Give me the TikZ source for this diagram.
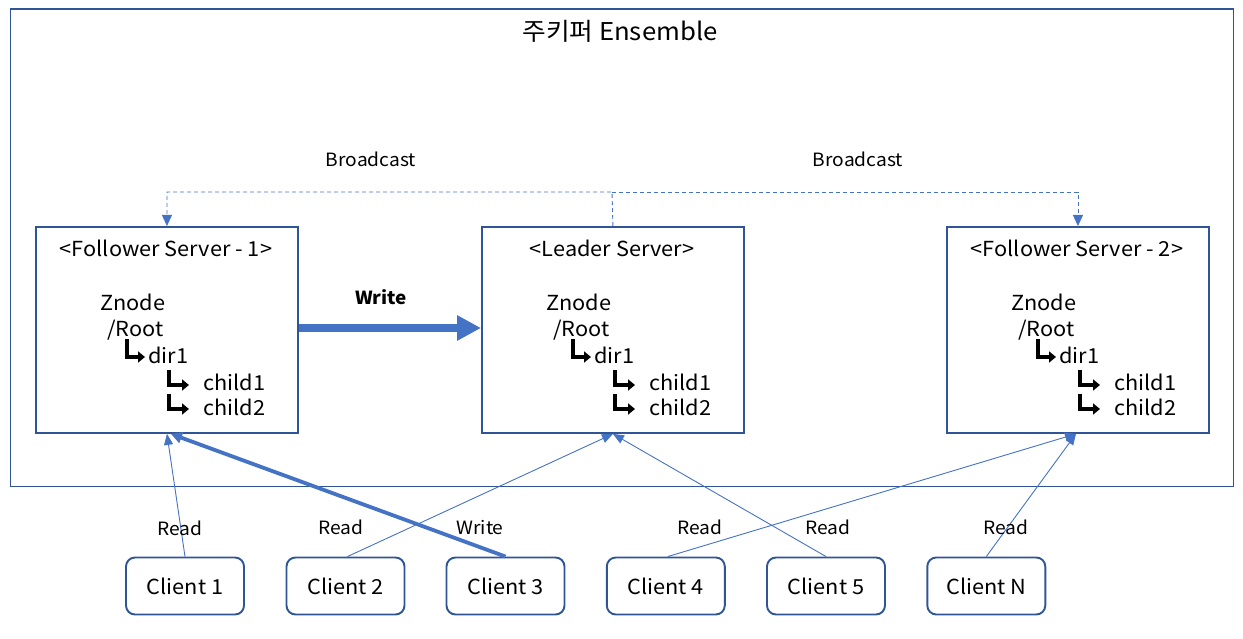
\documentclass[tikz,border=0pt]{standalone}
\usepackage{fontspec}
\setmainfont[FakeStretch=1.05]{Noto Sans CJK KR}
\usetikzlibrary{arrows.meta}
\definecolor{boxc}{HTML}{2F5597}
\definecolor{linec}{HTML}{4472C4}
\tikzset{
  server/.style={draw=boxc, line width=1.9pt, minimum width=262, minimum height=206, inner sep=0, anchor=north west},
  client/.style={draw=boxc, line width=1.9pt, rounded corners=9, minimum width=118, minimum height=57, inner sep=0, font=\fontsize{20.7}{22}\selectfont},
  lbl/.style={font=\fontsize{18.3}{20}\selectfont, inner sep=0},
  tree/.style={font=\fontsize{20.7}{22}\selectfont, inner sep=0, anchor=base west},
  hook/.style={line width=3.6pt, -{Triangle[length=7,width=11]}},
  readarr/.style={draw=linec, line width=0.9pt, -{Triangle[length=11,width=9]}},
  thickarr/.style={draw=linec, line width=3.8pt, -{Triangle[length=11,width=11]}},
  bcast/.style={draw=linec, line width=0.9pt, dash pattern=on 4pt off 3pt, -{Triangle[length=11,width=10]}}
}
\newcommand{\serverbox}[3]{%
  \node[server] (#1) at (#2,226) {};
  \begin{scope}[shift={(#2,226)}]
    \node[tree, anchor=base] (#1t) at (131,31) {#3};
    \node[tree] (#1z) at (65,85) {Znode};
    \node[tree] (#1r) at (72,111) {/Root};
    \node[tree] (#1d) at (113,137) {dir1};
    \node[tree] (#1c1) at (168,164) {child1};
    \node[tree] (#1c2) at (168,189) {child2};
    \draw[hook] (92,113) -- (92,131) -- (110,131);
    \draw[hook] (134,144) -- (134,159) -- (154,159);
    \draw[hook] (134,168) -- (134,183) -- (154,183);
  \end{scope}
}
\begin{document}
\begin{tikzpicture}[x=1pt,y=-1pt]
\useasboundingbox (0,0) rectangle (1243,639);
\node[draw=boxc, line width=1.9pt, minimum width=1223, minimum height=477, inner sep=0, anchor=north west] (frame) at (9.5,8.5) {};
\node[font=\fontsize{24.5}{26}\selectfont, inner sep=0] (title) at (620,31) {주키퍼 Ensemble};

\serverbox{fa}{35}{<Follower Server - 1>}
\serverbox{ld}{481}{<Leader Server>}
\serverbox{fb}{946}{<Follower Server - 2>}

\node[lbl] (bl1) at (371,159) {Broadcast};
\node[lbl] (bl2) at (858,159) {Broadcast};
\coordinate (bc) at (612,192);
\draw[bcast] (ld.north) -- (bc) -| (fa.north);
\draw[bcast] (bc) -| (fb.north);

\draw[draw=linec, line width=8pt, -{Triangle[length=24,width=24]}] (fa.east |- 0,328) -- (ld.west |- 0,328);
\node[lbl, font=\fontsize{18}{20}\selectfont\bfseries] (wl) at (381,297) {Write};

\node[client] (c1) at (185,586) {Client 1};
\node[client] (c2) at (345.5,586) {Client 2};
\node[client] (c3) at (505.5,586) {Client 3};
\node[client] (c4) at (665.8,586) {Client 4};
\node[client] (c5) at (826,586) {Client 5};
\node[client] (cn) at (986.3,586) {Client N};

\draw[readarr] (c1.north) -- (fa.south);
\draw[thickarr] (c3.north) -- ([xshift=4]fa.south);
\draw[readarr] ([xshift=2]c2.north) -- (ld.south);
\draw[readarr] (c5.north) -- (ld.south);
\draw[readarr] ([xshift=2]c4.north) -- ([xshift=-2]fb.south);
\draw[readarr] (cn.north) -- ([xshift=-2]fb.south);

\node[lbl] (r1) at (180,528) {Read};
\node[lbl] (r2) at (341,527) {Read};
\node[lbl] (w3) at (480,528) {Write};
\node[lbl] (r4) at (700,527) {Read};
\node[lbl] (r5) at (828,527) {Read};
\node[lbl] (rn) at (1006,527) {Read};
\end{tikzpicture}
\end{document}
